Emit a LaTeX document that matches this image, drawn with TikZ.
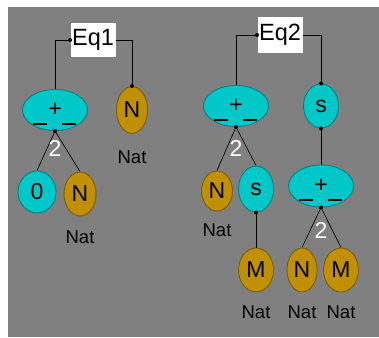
\documentclass[tikz,border=0pt]{standalone}
\usepackage{fontspec}
\setmainfont{Liberation Sans}
\usetikzlibrary{shapes.geometric}
\definecolor{bggray}{RGB}{128,128,128}
\definecolor{opcyan}{RGB}{0,200,200}
\definecolor{vargold}{RGB}{192,144,0}
\tikzset{
  eqbox/.style={fill=white, inner sep=1pt, minimum width=45pt, minimum height=34pt,
    font=\fontsize{23.5}{23.5}\selectfont},
  op/.style={ellipse, fill=opcyan, draw=opcyan!65!black, inner sep=0pt,
    font=\fontsize{23}{23}\selectfont},
  plusop/.style={op, minimum width=65pt, minimum height=41pt},
  succ/.style={op, minimum width=35pt, minimum height=44pt},
  var/.style={ellipse, fill=vargold, draw=vargold!65!black, inner sep=0pt,
    minimum width=31pt, minimum height=44pt, font=\fontsize{23}{23}\selectfont},
  typ/.style={font=\fontsize{18.5}{18.5}\selectfont},
  arity/.style={text=white, font=\fontsize{23}{23}\selectfont},
}
\begin{document}
\begin{tikzpicture}[x=1pt, y=-1pt, line width=0.9pt]
  \fill[white] (0,0) rectangle (379,337);
  \fill[bggray] (8,7) rectangle (379,337);
  % Eq1
  \node[eqbox] (eq1) at (93,40) {Eq1};
  \node[plusop] (p1) at (55,110) {\raisebox{-3pt}{+}};
  \node[var, minimum height=47pt] (n1) at (132,110) {N};
  \node[typ] (t1) [below of=n1, node distance=47pt] {Nat};
  \node[op, minimum width=38pt, minimum height=42pt] (z1) at (37,192) {0};
  \node[var, minimum width=32pt] (n2) at (80,194) {N};
  \node[typ] (t2) [below of=n2, node distance=43pt] {Nat};
  % Eq2
  \node[eqbox, minimum height=36pt] (eq2) at (280,35) {Eq2};
  \node[plusop] (p2) at (236,106) {\raisebox{-3pt}{+}};
  \node[succ] (s1) at (321,106) {s};
  \node[var, minimum height=40pt] (n3) at (217,191) {N};
  \node[typ] (t3) [below of=n3, node distance=39pt] {Nat};
  \node[succ, minimum height=46pt] (s2) at (256,189) {s};
  \node[var, minimum width=35pt] (m1) at (256,270) {M};
  \node[typ] (t4) [below of=m1, node distance=42pt] {Nat};
  \node[plusop, minimum height=42pt] (p3) at (321,186) {\raisebox{-3pt}{+}};
  \node[var, minimum width=30pt] (n4) at (302,270) {N};
  \node[typ] (t5) [below of=n4, node distance=42pt] {Nat};
  \node[var, minimum width=35pt] (m2) at (341,270) {M};
  \node[typ] (t6) [below of=m2, node distance=42pt] {Nat};

  \draw (eq1.west) -| (p1.north);
  \draw (eq1.east) -| (n1.north);
  \draw (eq2.west) -| (p2.north);
  \draw (eq2.east) -| (s1.north);
  \path[-, line width=0.7pt]
            (p1.south) edge (z1.north)
            (p1.south) edge (n2.north)
            (p2.south) edge (n3.north)
            (p2.south) edge (s2.north)
            (s1.south) edge (p3.north)
            (s2.south) edge (m1.north)
            (p3.south) edge (n4.north)
            (p3.south) edge (m2.north)
            ;
  \foreach \p in {p1,p2,p3} {
    \draw[line width=1.6pt] ([xshift=-22pt,yshift=-14pt]\p.center) -- ++(14pt,0);
    \draw[line width=1.6pt] ([xshift=7pt,yshift=-14pt]\p.center) -- ++(14pt,0);
    \fill (\p.south) circle (2pt);
  }
  \foreach \d in {eq1.west,n1.north,eq2.west,s1.north,s1.south,s2.south}
    \fill (\d) circle (2pt);
  \node[arity] (k1) [below of=p1, node distance=38pt] {2};
  \node[arity] (k2) [below of=p2, node distance=42pt] {2};
  \node[arity] (k3) [below of=p3, node distance=44pt] {2};
\end{tikzpicture}
\end{document}
